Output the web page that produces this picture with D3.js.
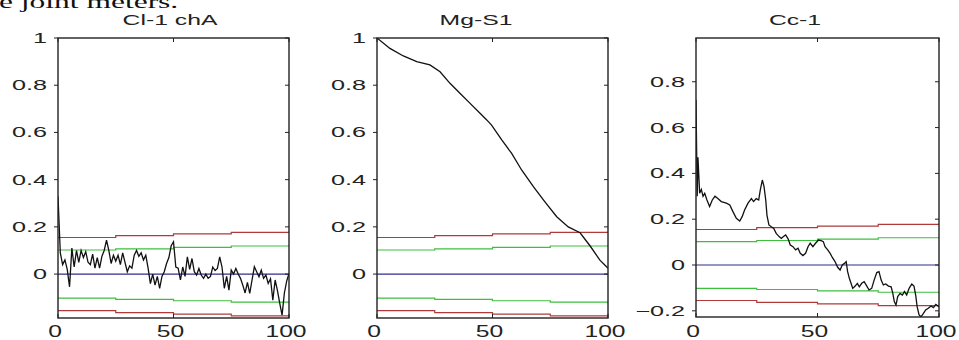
<!DOCTYPE html>
<html>
<head>
<meta charset="utf-8">
<script src="https://cdn.jsdelivr.net/npm/d3@7"></script>
<style>
  body { margin: 0; background: #fff; }
  svg { display: block; }
  .tick-label { font-family: "Liberation Sans", Arial, sans-serif; fill: #222; }
</style>
</head>
<body>
<svg id="chart"></svg>
<script>
// panel titles and tick labels
const titles = ["Cl-1 chA", "Mg-S1", "Cc-1"];
const xTicks = [0, 50, 100];
const yTicksA = [0, 0.2, 0.4, 0.6, 0.8, 1];
const yTicksB = [-0.2, 0, 0.2, 0.4, 0.6, 0.8];

// Cl-1 chA, one value per lag 0..100
const clValues = [0.33, 0.09, 0.04, 0.06, 0.02, -0.054, 0.11, 0.03, 0.10, 0.05,
  0.10, 0.07, 0.095, 0.05, 0.04, 0.085, 0.025, 0.07, 0.025, 0.075,
  0.10, 0.144, 0.10, 0.045, 0.08, 0.055, 0.08, 0.04, 0.09, 0.05,
  0.01, 0.035, 0.025, 0.08, 0.10, 0.075, 0.09, 0.06, 0.08, 0.025,
  -0.04, 0.0, -0.047, -0.01, -0.06, -0.01, 0.01, 0.045, 0.07, 0.12,
  0.137, 0.03, 0.025, -0.025, 0.03, -0.01, 0.073, 0.02, 0.066, 0.01,
  -0.004, 0.024, -0.004, -0.018, 0.0, -0.018, -0.01, 0.03, 0.015, 0.024,
  0.073, 0.03, -0.06, -0.01, -0.068, 0.017, 0.0, 0.024, 0.0, -0.018,
  -0.047, -0.08, -0.035, -0.082, -0.025, 0.031, 0.01, -0.011, 0.017, -0.018,
  -0.004, -0.04, -0.02, -0.11, -0.025, -0.07, -0.124, -0.174, -0.08, -0.03,
  0.003];

// Mg-S1
const mgLags = [0, 5.6, 11.4, 17.2, 22.9, 27.3, 31.6, 35.9, 40.3, 44.6, 47.5, 49.6,
  54, 58.3, 62.6, 67.7, 72.7, 77.8, 82.8, 87.9, 92.2, 96.5, 100];
const mgValues = [1.0, 0.956, 0.924, 0.90, 0.886, 0.857, 0.808, 0.766, 0.723, 0.681, 0.653, 0.631,
  0.568, 0.511, 0.441, 0.37, 0.306, 0.243, 0.2, 0.175, 0.12, 0.059, 0.025];

// Cc-1
const ccLags = [0, 0.5, 0.8, 1.5, 2.2, 2.9, 3.6, 4.5, 5.6, 6.7, 7.8, 9, 10.4, 12.5, 13.9, 15.2,
  16.6, 18, 19, 20, 21.4, 22.8, 23.7, 24.8, 25.8, 26.5, 27.3, 28, 28.7, 29.2, 30, 31, 32, 33,
  34.2, 35.1, 36, 36.9, 37.9, 38.8, 39.9, 41, 42, 42.9, 44, 45.1, 46.1, 47, 48.1, 49.2, 50.4,
  51.5, 52.4, 53.1, 54.2, 55.2, 56.1, 57.2, 58.3, 59.3, 60.2, 61.1, 61.8, 62.4, 63.1, 63.8,
  64.5, 65.5, 66.4, 67.2, 68.2, 69.2, 70.3, 71.2, 72.3, 73.3, 74.4, 75.3, 76.2, 77.1, 78.1,
  79.2, 80.3, 81, 81.6, 82.3, 83, 84, 84.9, 85.8, 86.7, 87.7, 88.8, 89.7, 90.4, 91, 91.8,
  92.6, 93.6, 94.5, 95.6, 96.7, 97.7, 98.7, 100];
const ccValues = [0.72, 0.30, 0.47, 0.313, 0.33, 0.30, 0.313, 0.284, 0.255, 0.284, 0.30, 0.29,
  0.277, 0.27, 0.262, 0.233, 0.204, 0.192, 0.211, 0.24, 0.27, 0.29, 0.277, 0.29, 0.284, 0.33,
  0.371, 0.342, 0.284, 0.218, 0.175, 0.167, 0.16, 0.138, 0.124, 0.116, 0.124, 0.131, 0.114,
  0.087, 0.08, 0.066, 0.073, 0.051, 0.041, 0.051, 0.08, 0.095, 0.08, 0.095, 0.109, 0.106,
  0.102, 0.08, 0.066, 0.051, 0.033, 0.015, -0.01, -0.022, 0, 0.007, 0.015, -0.029, -0.058,
  -0.08, -0.102, -0.092, -0.08, -0.095, -0.08, -0.073, -0.092, -0.109, -0.102, -0.066,
  -0.033, -0.029, -0.066, -0.087, -0.083, -0.092, -0.095, -0.124, -0.16, -0.175, -0.138,
  -0.124, -0.131, -0.116, -0.131, -0.102, -0.083, -0.092, -0.131, -0.182, -0.218, -0.226,
  -0.211, -0.196, -0.189, -0.179, -0.186, -0.172, -0.182];

// confidence bounds, shared by all panels
const boundLags = [0, 25, 50, 75, 100];
const redUpper = [0.155, 0.163, 0.17, 0.177, 0.181];
const greenUpper = [0.102, 0.107, 0.113, 0.119, 0.123];
const greenLower = [-0.102, -0.107, -0.113, -0.119, -0.123];
const redLower = [-0.155, -0.163, -0.17, -0.177, -0.181];

const series = [
  { lags: d3.range(0, 101), values: clValues },
  { lags: mgLags, values: mgValues },
  { lags: ccLags, values: ccValues }
];

const panels = [
  { x0: 58, x1: 289, y0: 318, y1: 38, yDomain: [-0.186, 1], yTicks: yTicksA, titleX: 170 },
  { x0: 377, x1: 608, y0: 318, y1: 38, yDomain: [-0.186, 1], yTicks: yTicksA, titleX: 476 },
  { x0: 696, x1: 939, y0: 317, y1: 38, yDomain: [-0.227, 0.991], yTicks: yTicksB, titleX: 795 }
];

const svg = d3.select("#chart").attr("width", 959).attr("height", 340);
svg.append("rect").attr("width", 959).attr("height", 340).attr("fill", "#fff");

// caption text cut off at the top of the picture
svg.append("text")
  .attr("transform", "translate(-1,8) scale(1.75,1)")
  .style("font-family", "'Liberation Serif', 'Times New Roman', serif")
  .style("font-size", "18px")
  .attr("fill", "#111")
  .text("e joint meters.");

const stretched = (sel, x, y, sx) => sel.attr("transform", `translate(${x},${y}) scale(${sx},1)`);

panels.forEach((p, i) => {
  const x = d3.scaleLinear().domain([0, 100]).range([p.x0, p.x1]);
  const y = d3.scaleLinear().domain(p.yDomain).range([p.y0, p.y1]);
  const g = svg.append("g");

  const clipId = `clip-${i}`;
  g.append("clipPath").attr("id", clipId)
    .append("rect")
    .attr("x", p.x0).attr("y", p.y1)
    .attr("width", p.x1 - p.x0).attr("height", p.y0 - p.y1);

  const line = d3.line().x(d => x(d[0])).y(d => y(d[1]));
  const plot = g.append("g").attr("clip-path", `url(#${clipId})`);

  const bounds = [
    { vals: redUpper, color: "#b03a3a" },
    { vals: greenUpper, color: "#3cbf3c" },
    { vals: greenLower, color: "#3cbf3c" },
    { vals: redLower, color: "#b03a3a" }
  ];
  bounds.forEach(b => {
    plot.append("path")
      .datum(boundLags.map((l, k) => [l, b.vals[k]]))
      .attr("d", line.curve(d3.curveStepAfter))
      .attr("fill", "none")
      .attr("stroke", b.color)
      .attr("stroke-width", 1.2);
  });
  line.curve(d3.curveLinear);

  plot.append("line")
    .attr("x1", x(0)).attr("x2", x(100))
    .attr("y1", y(0)).attr("y2", y(0))
    .attr("stroke", "#2e2e8c")
    .attr("stroke-width", 1.2);

  const s = series[i];
  plot.append("path")
    .datum(s.lags.map((l, k) => [l, s.values[k]]))
    .attr("d", line)
    .attr("fill", "none")
    .attr("stroke", "#111")
    .attr("stroke-width", 1.3);

  // box
  g.append("rect")
    .attr("x", p.x0).attr("y", p.y1)
    .attr("width", p.x1 - p.x0).attr("height", p.y0 - p.y1)
    .attr("fill", "none")
    .attr("stroke", "#222")
    .attr("stroke-width", 1.4);

  // y ticks: outward on left, inward on right
  p.yTicks.forEach(t => {
    const yy = y(t);
    g.append("line").attr("x1", p.x0 - 4).attr("x2", p.x0).attr("y1", yy).attr("y2", yy)
      .attr("stroke", "#222");
    g.append("line").attr("x1", p.x1 - 4).attr("x2", p.x1).attr("y1", yy).attr("y2", yy)
      .attr("stroke", "#222");
    stretched(g.append("text").attr("class", "tick-label"), p.x0 - 11, yy + 5, 1.8)
      .attr("text-anchor", "end")
      .style("font-size", "14px")
      .text(d3.format("~g")(t));
  });

  // x ticks: inward top and bottom
  xTicks.forEach(t => {
    const xx = x(t);
    g.append("line").attr("x1", xx).attr("x2", xx).attr("y1", p.y0).attr("y2", p.y0 - 4)
      .attr("stroke", "#222");
    g.append("line").attr("x1", xx).attr("x2", xx).attr("y1", p.y1).attr("y2", p.y1 + 4)
      .attr("stroke", "#222");
    stretched(g.append("text").attr("class", "tick-label"), xx - 3, 337, 1.45)
      .attr("text-anchor", "middle")
      .style("font-size", "17px")
      .text(t);
  });

  stretched(g.append("text").attr("class", "tick-label"), p.titleX, 25, 1.65)
    .attr("text-anchor", "middle")
    .style("font-size", "15px")
    .text(titles[i]);
});
</script>
</body>
</html>
